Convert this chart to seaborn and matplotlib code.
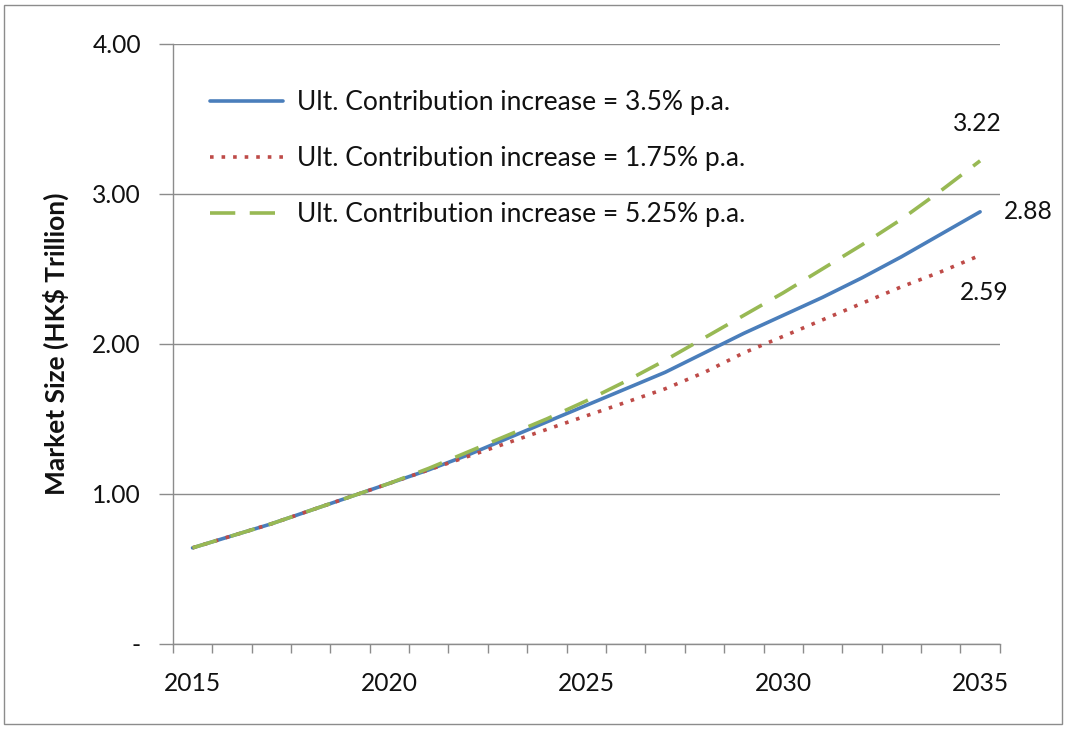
import matplotlib
matplotlib.use("Agg")
import matplotlib.pyplot as plt
from matplotlib.patches import Rectangle
import seaborn as sns
import pandas as pd
import numpy as np

years = list(range(2015, 2036))
base_35 = [0.64, 0.72, 0.80, 0.89, 0.98, 1.07, 1.16, 1.26, 1.37, 1.48, 1.59, 1.70,
           1.81, 1.94, 2.07, 2.19, 2.31, 2.44, 2.58, 2.73, 2.88]
low_175 = [0.64, 0.72, 0.80, 0.89, 0.98, 1.07, 1.16, 1.25, 1.34, 1.43, 1.52, 1.61,
           1.70, 1.81, 1.94, 2.05, 2.16, 2.27, 2.38, 2.48, 2.59]
high_525 = [0.64, 0.72, 0.80, 0.89, 0.98, 1.07, 1.17, 1.28, 1.39, 1.50, 1.62, 1.75,
            1.89, 2.04, 2.19, 2.34, 2.50, 2.66, 2.83, 3.02, 3.22]
series_names = ["Ult. Contribution increase = 3.5% p.a.",
                "Ult. Contribution increase = 1.75% p.a.",
                "Ult. Contribution increase = 5.25% p.a."]
end_labels = ["2.88", "2.59", "3.22"]
y_ticks = [0, 1, 2, 3, 4]
y_tick_labels = ["-", "1.00", "2.00", "3.00", "4.00"]
x_label_years = [2015, 2020, 2025, 2030, 2035]

df = pd.DataFrame({
    "year": years * 3,
    "value": base_35 + low_175 + high_525,
    "scenario": [series_names[0]] * len(years) + [series_names[1]] * len(years) + [series_names[2]] * len(years),
})

sns.set_theme(style="white")
plt.rcParams["font.family"] = ["Lato", "DejaVu Sans"]

fig = plt.figure(figsize=(10.67, 7.30), dpi=100)
ax = fig.add_axes([0.162, 0.118, 0.775, 0.822])

colors = {series_names[0]: "#4A7EBB", series_names[1]: "#BE4B48", series_names[2]: "#98B954"}
dashes = {series_names[0]: "", series_names[1]: (1, 2.2), series_names[2]: (7, 4)}

sns.lineplot(data=df, x="year", y="value", hue="scenario", style="scenario",
             palette=colors, dashes=dashes, linewidth=2.6, ax=ax,
             hue_order=series_names, style_order=series_names)

ax.set_xlim(2014.5, 2035.5)
ax.set_ylim(0, 4)
ax.set_yticks(y_ticks)
ax.set_yticklabels(y_tick_labels)
ax.set_xticks(x_label_years)
ax.set_xticklabels([str(y) for y in x_label_years])
ax.set_xticks(np.arange(2014.5, 2036.0, 1.0), minor=True)

ax.grid(axis="y", color="#8C8C8C", linewidth=1.0)
ax.grid(axis="x", visible=False)
ax.set_axisbelow(True)
for s in ["top", "right"]:
    ax.spines[s].set_visible(False)
for s in ["left", "bottom"]:
    ax.spines[s].set_color("#8C8C8C")
    ax.spines[s].set_linewidth(1.0)

FS = 17.7
ax.tick_params(axis="x", which="major", length=0, pad=20, labelsize=FS, colors="#111111")
ax.tick_params(axis="x", which="minor", length=6.5, width=1.0, color="#8C8C8C", direction="out", bottom=True)
ax.tick_params(axis="y", which="major", length=10, width=1.0, color="#8C8C8C", direction="out",
               left=True, pad=13, labelsize=FS, labelcolor="#111111")

ax.set_xlabel("")
ax.set_ylabel("Market Size (HK$ Trillion)", fontsize=19, fontweight="bold", color="#111111")
ax.yaxis.set_label_coords(-0.125, 0.5)

# end-point value labels
ax.annotate(end_labels[2], (2035, high_525[-1]), xytext=(-2, 27), textcoords="offset points",
            ha="center", va="center", fontsize=FS, color="#111111")
ax.annotate(end_labels[0], (2035, base_35[-1]), xytext=(17, 0), textcoords="offset points",
            ha="left", va="center", fontsize=FS, color="#111111")
ax.annotate(end_labels[1], (2035, low_175[-1]), xytext=(3, -27), textcoords="offset points",
            ha="center", va="center", fontsize=FS, color="#111111")

leg = ax.legend(loc="upper left", bbox_to_anchor=(0.032, 0.94), frameon=False, fontsize=19,
                handlelength=2.77, handletextpad=0.53, labelspacing=1.17, borderaxespad=0)
for t in leg.get_texts():
    t.set_color("#111111")

fig.patches.append(Rectangle((0.004, 0.008), 0.991, 0.985, transform=fig.transFigure,
                             fill=False, edgecolor="#8C8C8C", linewidth=1.0))

fig.savefig("out.png", dpi=100)
